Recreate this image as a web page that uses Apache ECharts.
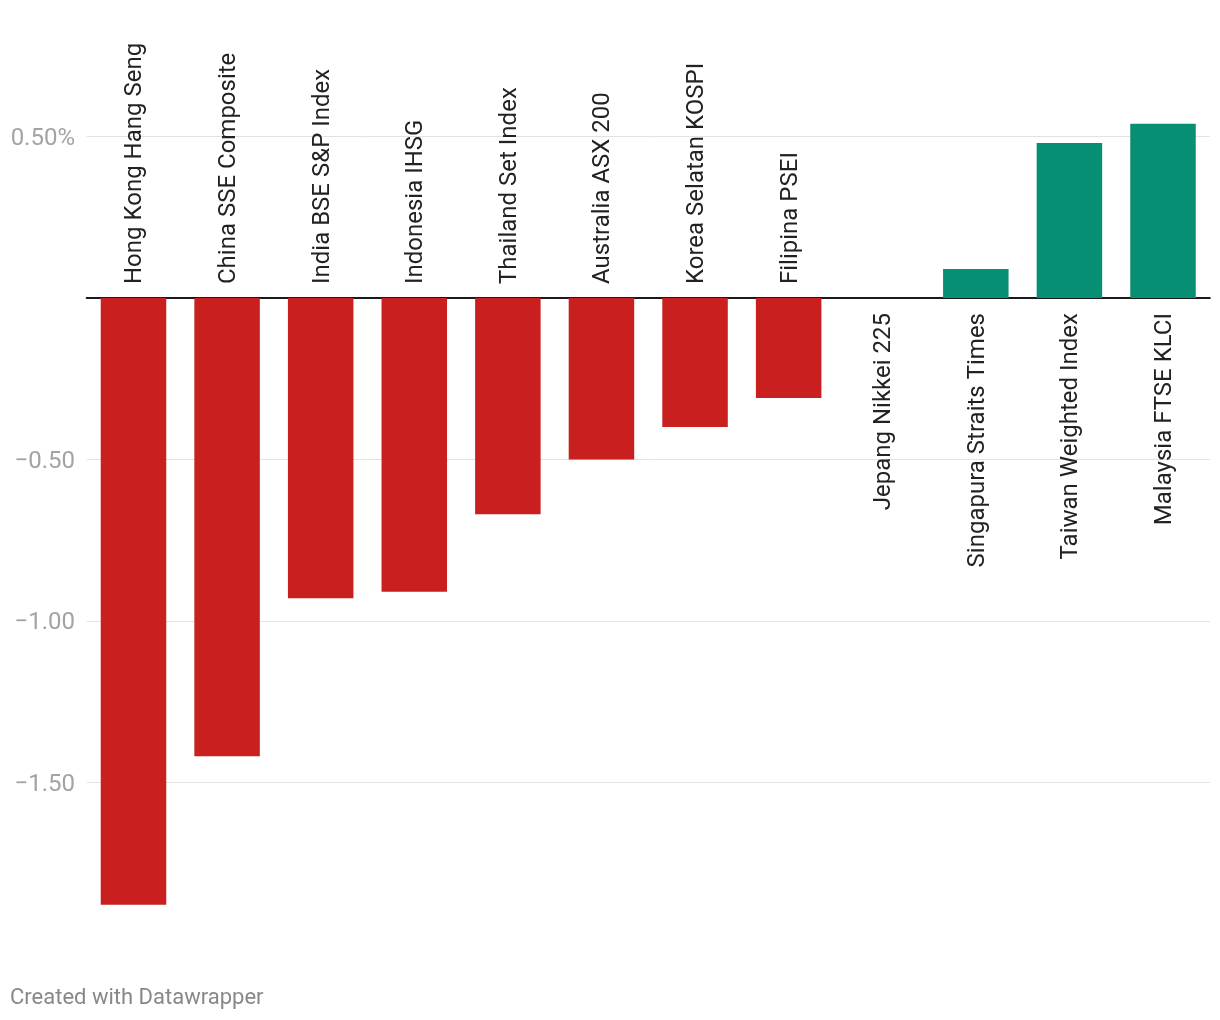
<!DOCTYPE html>
<html>
<head>
<meta charset="utf-8">
<script src="https://cdn.jsdelivr.net/npm/echarts@6/dist/echarts.min.js"></script>
<style>
  html, body { margin: 0; padding: 0; background: #fff; }
  #chart { width: 1220px; height: 1020px; }
</style>
</head>
<body>
<div id="chart"></div>
<script>
const categories = [
  "Hong Kong Hang Seng", "China SSE Composite", "India BSE S&P Index", "Indonesia IHSG",
  "Thailand Set Index", "Australia ASX 200", "Korea Selatan KOSPI", "Filipina PSEI",
  "Jepang Nikkei 225", "Singapura Straits Times", "Taiwan Weighted Index", "Malaysia FTSE KLCI"
];
const values = [-1.88, -1.42, -0.93, -0.91, -0.67, -0.50, -0.40, -0.31, 0, 0.09, 0.48, 0.54];
const tickValues = [0.5, -0.5, -1, -1.5];
const tickLabels = ["0.50%", "\u22120.50", "\u22121.00", "\u22121.50"];
const footer = "Created with Datawrapper";

const RED = "#c91f1f";
const GREEN = "#068f72";
const FONT = "Roboto, 'Noto Sans', sans-serif";

const seriesData = values.map(function (v) {
  const neg = v < 0;
  return {
    value: v,
    itemStyle: { color: neg ? RED : GREEN },
    label: neg
      ? { position: "top", distance: 14, align: "left" }
      : { position: "bottom", distance: 15, align: "right" }
  };
});

const chart = echarts.init(document.getElementById("chart"), null, { renderer: "canvas" });
chart.setOption({
  animation: false,
  backgroundColor: "#ffffff",
  textStyle: { fontFamily: FONT },
  graphic: [{
    type: "text",
    left: 10,
    top: 987,
    style: { text: footer, fill: "#888888", font: "22px " + FONT }
  }],
  grid: { left: 86.7, right: 10.2, top: 39.8, bottom: 76.5, containLabel: false },
  xAxis: {
    type: "category",
    data: categories,
    boundaryGap: true,
    axisLine: { show: true, onZero: true, lineStyle: { color: "#1a1a1a", width: 2 } },
    axisTick: { show: false },
    axisLabel: { show: false },
    splitLine: { show: false }
  },
  yAxis: {
    type: "value",
    min: -2,
    max: 0.8,
    interval: 0.5,
    axisLine: { show: false },
    axisTick: { show: false },
    splitLine: {
      show: true,
      showMinLine: false,
      showMaxLine: false,
      lineStyle: { color: "#e2e2e2", width: 1 }
    },
    axisLabel: {
      show: true,
      align: "right",
      margin: 11.7,
      color: "#a3a3a3",
      fontSize: 24,
      fontFamily: FONT,
      formatter: function (v) {
        for (let i = 0; i < tickValues.length; i++) {
          if (Math.abs(v - tickValues[i]) < 1e-6) return "{t|" + tickLabels[i] + "}";
        }
        return "";
      },
      rich: {
        t: { color: "#a3a3a3", fontSize: 24, fontFamily: FONT, padding: [5, 0, 0, 0] }
      }
    }
  },
  series: [{
    type: "bar",
    data: seriesData,
    barWidth: 65.5,
    label: {
      show: true,
      rotate: 90,
      verticalAlign: "middle",
      offset: [0, 2],
      color: "#222222",
      fontSize: 24,
      fontFamily: FONT,
      formatter: function (p) { return p.name; }
    }
  }]
});
</script>
</body>
</html>
